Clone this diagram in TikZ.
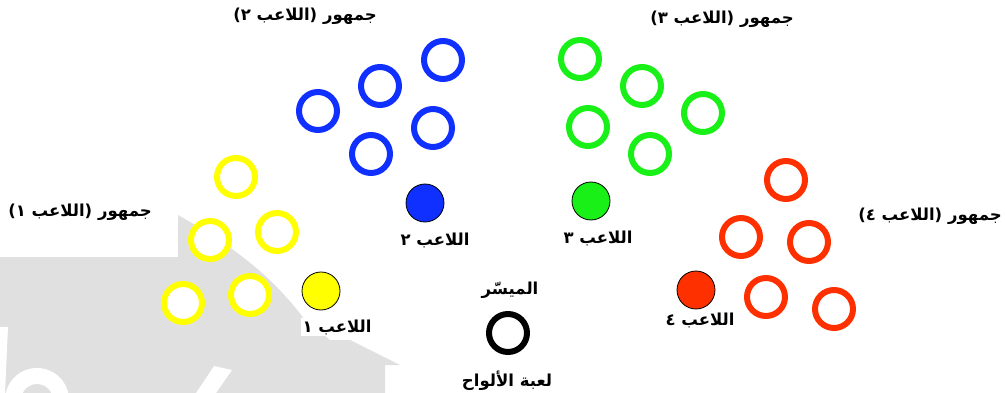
\documentclass[tikz,border=0pt]{standalone}
\usepackage{fontspec}
\TeXXeTstate=1
\newfontfamily\arabicfont[Script=Arabic]{DejaVu Sans}
\definecolor{fanyellow}{RGB}{255,255,0}
\definecolor{fanblue}{RGB}{16,48,255}
\definecolor{fangreen}{RGB}{24,240,24}
\definecolor{fanred}{RGB}{255,48,0}
\definecolor{watermark}{RGB}{224,224,224}

\tikzset{
  fan/.style={circle, minimum size=38pt, inner sep=0pt, line width=6pt, fill=white, draw=#1},
  player/.style={circle, minimum size=38pt, inner sep=0pt, line width=0.8pt, draw=black, fill=#1},
  lbl/.style={fill=white, inner sep=2pt, font=\arabicfont\bfseries\fontsize{16.5}{19}\selectfont}
}

\begin{document}
\begin{tikzpicture}[x=1pt, y=-1pt]
\useasboundingbox (0,0) rectangle (1005,393);
% watermark behind everything
\fill[watermark] (178,215) .. controls (240,250) and (275,280) .. (305,320) -- (330,340) -- (350,340) -- (400,365) -- (385,365) -- (385,393) -- (0,393) -- (0,257) -- (178,257) -- cycle;
\fill[white] (0,327) -- (8,327) -- (5,393) -- (0,393) -- cycle;
\fill[white, even odd rule] (37,400) circle (32) (37,400) circle (16);
\fill[white] (196,393) -- (214,366) -- (232,370) -- (216,393) -- cycle;

% player 1 and crowd
\node[fan=fanyellow] (y1) at (236,177) {};
\node[fan=fanyellow] (y2) at (210,240) {};
\node[fan=fanyellow] (y3) at (277,232) {};
\node[fan=fanyellow] (y4) at (183,303) {};
\node[fan=fanyellow] (y5) at (250,295) {};
\node[player=fanyellow] (p1) at (321,291) {};
\node[lbl] (lp1) at (337,327) {\beginR اللاعب ١\endR};
\node[lbl] (lc1) at (80,212) {\beginR جمهور (اللاعب ١)\endR};

% player 2 and crowd
\node[fan=fanblue] (b1) at (318,111) {};
\node[fan=fanblue] (b2) at (380,86) {};
\node[fan=fanblue] (b3) at (443,60) {};
\node[fan=fanblue] (b4) at (371,154) {};
\node[fan=fanblue] (b5) at (433,128) {};
\node[player=fanblue] (p2) at (425,203) {};
\node[lbl] (lp2) at (435,240) {\beginR اللاعب ٢\endR};
\node[lbl] (lc2) at (305,16) {\beginR جمهور (اللاعب ٢)\endR};

% player 3 and crowd
\node[fan=fangreen] (g1) at (580,59) {};
\node[fan=fangreen] (g2) at (642,86) {};
\node[fan=fangreen] (g3) at (703,113) {};
\node[fan=fangreen] (g4) at (588,127) {};
\node[fan=fangreen] (g5) at (650,154) {};
\node[player=fangreen] (p3) at (591,201) {};
\node[lbl] (lp3) at (598,238) {\beginR اللاعب ٣\endR};
\node[lbl] (lc3) at (722,19) {\beginR جمهور (اللاعب ٣)\endR};

% player 4 and crowd
\node[fan=fanred] (r1) at (786,180) {};
\node[fan=fanred] (r2) at (741,237) {};
\node[fan=fanred] (r3) at (809,242) {};
\node[fan=fanred] (r4) at (766,297) {};
\node[fan=fanred] (r5) at (834,309) {};
\node[player=fanred] (p4) at (696,290) {};
\node[lbl] (lp4) at (700,320) {\beginR اللاعب ٤\endR};
\node[lbl] (lc4) at (930,216) {\beginR جمهور (اللاعب ٤)\endR};

% facilitator
\node[lbl] (lf) at (510,290) {\beginR الميسّر\endR};
\node[fan=black] (f) at (508,333) {};
\node[lbl] (lg) at (507,381) {\beginR لعبة الألواح\endR};
\end{tikzpicture}
\end{document}
